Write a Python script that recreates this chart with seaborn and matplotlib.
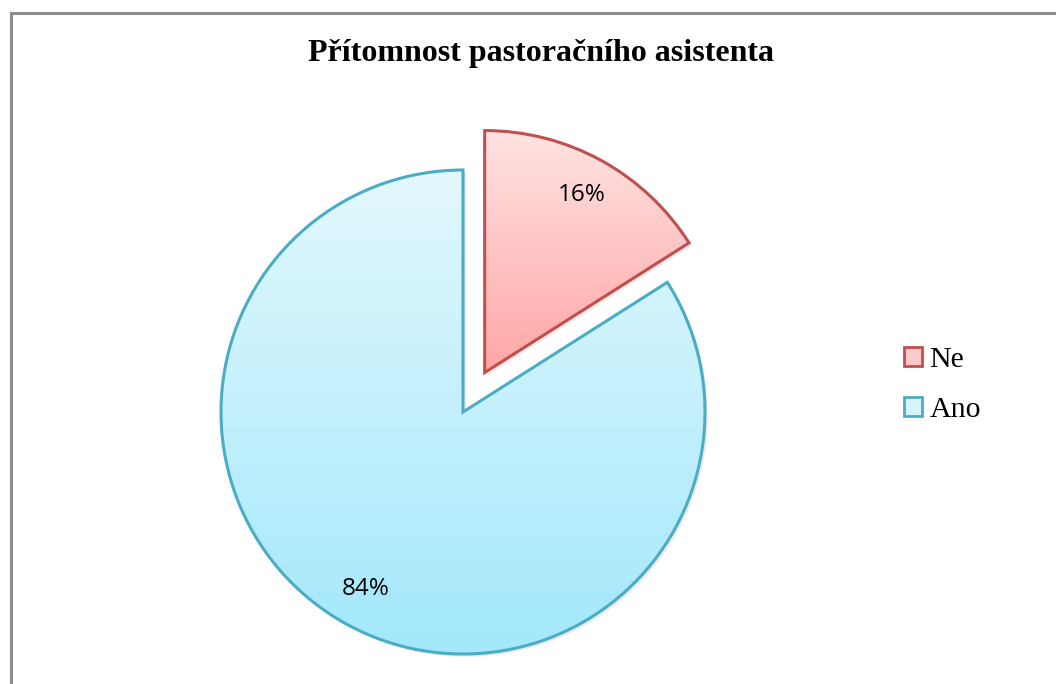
import numpy as np
import matplotlib
matplotlib.use("Agg")
import matplotlib.pyplot as plt
import matplotlib.patches as mpatches
import matplotlib.colors as mcolors
import seaborn as sns

# data
labels = ["Ne", "Ano"]
values = [16, 84]
explode = [0.186, 0.0]
title = "Přítomnost pastoračního asistenta"

edge_colors = ["#C0504D", "#4BACC6"]
grad_top = ["#FFE3E3", "#E3F8FD"]
grad_bottom = ["#FFA6A6", "#A3E8FC"]
legend_fill = ["#FFC9C9", "#D6F4FD"]

sns.set_theme(style="white")
plt.rcParams["text.color"] = "black"

W, H, DPI = 1056, 684, 100
fig = plt.figure(figsize=(W / DPI, H / DPI), dpi=DPI)
fig.patch.set_facecolor("white")

# pie centre / radius in pixels (from top-left)
cx, cy, r = 463, 412, 242
ax = fig.add_axes([0, 0, 1, 1])
wedges, texts, autotexts = ax.pie(
    values, explode=explode, startangle=90, counterclock=False,
    autopct="%d%%", pctdistance=0.835, radius=1,
    wedgeprops=dict(linewidth=2.2), textprops=dict(fontsize=17.5, family="Open Sans"),
)
ax.axis("off")

for i, w in enumerate(wedges):
    w.set_edgecolor(edge_colors[i])
    w.set_facecolor("none")
    w.set_zorder(3)
    ext = w.get_path().get_extents()
    cmap = mcolors.LinearSegmentedColormap.from_list("g", [grad_bottom[i], grad_top[i]])
    grad = np.linspace(0, 1, 256).reshape(-1, 1)
    im = ax.imshow(grad, cmap=cmap, origin="lower", aspect="auto",
                   extent=[ext.x0, ext.x1, ext.y0, ext.y1], zorder=2)
    im.set_clip_path(w)
    # soft shadow
    sh = mpatches.Wedge((w.center[0] + 0.012, w.center[1] - 0.012), w.r, w.theta1, w.theta2,
                        facecolor="#000000", alpha=0.08, edgecolor="none", zorder=1)
    ax.add_patch(sh)

for t in autotexts:
    t.set_zorder(4)
    t.set_color("black")

ax.set_xlim(-cx / r, (W - cx) / r)
ax.set_ylim(-(H - cy) / r, cy / r)
ax.set_aspect("auto")

fig.text(541 / W, 1 - 54 / H, title, ha="center", va="center", color="black",
         fontsize=23, fontweight="bold", family="Liberation Serif")

handles = [mpatches.Patch(facecolor=legend_fill[i], edgecolor=edge_colors[i], linewidth=2)
           for i in range(len(labels))]
leg = fig.legend(handles, labels, loc="center left", bbox_to_anchor=(892 / W, 1 - 385 / H),
                 frameon=False, prop=dict(family="Liberation Serif", size=21.5),
                 handlelength=0.6, handleheight=0.6, handletextpad=0.25, labelspacing=0.8,
                 borderaxespad=0, labelcolor="black")

# outer frame
frame = mpatches.Rectangle((10.5 / W, -0.2), 1.5, 0.2 + 1 - 12.5 / H, transform=fig.transFigure,
                           facecolor="none", edgecolor="#8C8C8C", linewidth=2.2, zorder=10)
fig.patches.append(frame)

fig.savefig("out.png", dpi=DPI)
